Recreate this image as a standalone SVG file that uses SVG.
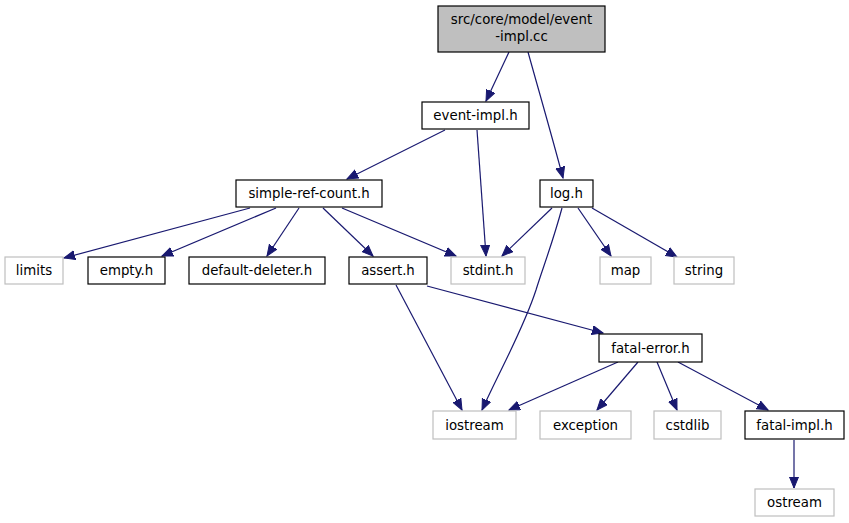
<svg xmlns="http://www.w3.org/2000/svg" width="849" height="523" viewBox="0 0 849 523">
<defs>
<marker id="arr" markerUnits="userSpaceOnUse" markerWidth="13" markerHeight="11" refX="11" refY="5" orient="auto">
<path d="M0,0.5 L11,5 L0,9.5 z" fill="#191970" stroke="#191970" stroke-width="1"/>
</marker>
<style>
.n rect{fill:#ffffff;stroke:#000000;stroke-width:1.2}
.g rect{fill:#ffffff;stroke:#bfbfbf;stroke-width:1.2}
.r rect{fill:#bfbfbf;stroke:#000000;stroke-width:1.2}
text{font-family:"DejaVu Sans","Liberation Sans",sans-serif;font-size:13.33px;text-anchor:middle;fill:#000}
.e path{fill:none;stroke:#191970;stroke-width:1.2;marker-end:url(#arr)}
</style>
</defs>
<rect width="849" height="523" fill="#ffffff"/>
<g class="e" id="edges">
<path d="M509,52 L486,101"/>
<path d="M528,52 C540,95 553,140 563,178"/>
<path d="M445,130 L347,179"/>
<path d="M477,130 L486,256"/>
<path d="M250,208 L64,258"/>
<path d="M276,208 L162,256"/>
<path d="M299,208 L267,256"/>
<path d="M323,208 L373,256"/>
<path d="M342,208 L456,256"/>
<path d="M552,208 L502,256"/>
<path d="M562,208 C552,245 542,270 536,290 C523,330 500,370 482,410"/>
<path d="M578,208 L611,256"/>
<path d="M592,208 L677,257"/>
<path d="M396,285 L462,410"/>
<path d="M427,286 L603,333"/>
<path d="M618,362 L509,410"/>
<path d="M638,362 L597,410"/>
<path d="M657,362 L677,410"/>
<path d="M678,362 L768,410"/>
<path d="M794,440 L794,488"/>
</g>
<g id="root" class="r"><rect x="438" y="6" width="167" height="46"/><text x="521.5" y="24">src/core/model/event</text><text x="521.5" y="41">-impl.cc</text></g>
<g id="event-impl-h" class="n"><rect x="422" y="102" width="107" height="27"/><text x="475.5" y="120">event-impl.h</text></g>
<g id="simple-ref-count-h" class="n"><rect x="236" y="180" width="146" height="27"/><text x="309" y="198">simple-ref-count.h</text></g>
<g id="log-h" class="n"><rect x="540" y="180" width="53" height="27"/><text x="566.5" y="198">log.h</text></g>
<g id="limits" class="g"><rect x="5" y="257" width="58" height="27"/><text x="34" y="275">limits</text></g>
<g id="empty-h" class="n"><rect x="88" y="257" width="77" height="27"/><text x="126.5" y="275">empty.h</text></g>
<g id="default-deleter-h" class="n"><rect x="189" y="257" width="136" height="27"/><text x="257" y="275">default-deleter.h</text></g>
<g id="assert-h" class="n"><rect x="349" y="257" width="78" height="27"/><text x="388" y="275">assert.h</text></g>
<g id="stdint-h" class="g"><rect x="451" y="257" width="74" height="27"/><text x="488" y="275">stdint.h</text></g>
<g id="map" class="g"><rect x="600" y="257" width="51" height="27"/><text x="625.5" y="275">map</text></g>
<g id="string" class="g"><rect x="674" y="257" width="60" height="27"/><text x="704" y="275">string</text></g>
<g id="fatal-error-h" class="n"><rect x="599" y="334" width="103" height="28"/><text x="650.5" y="352.5">fatal-error.h</text></g>
<g id="iostream" class="g"><rect x="433" y="411" width="83" height="28"/><text x="474.5" y="429.5">iostream</text></g>
<g id="exception" class="g"><rect x="540" y="411" width="91" height="28"/><text x="585.5" y="429.5">exception</text></g>
<g id="cstdlib" class="g"><rect x="654" y="411" width="67" height="28"/><text x="687.5" y="429.5">cstdlib</text></g>
<g id="fatal-impl-h" class="n"><rect x="745" y="411" width="99" height="28"/><text x="794.5" y="429.5">fatal-impl.h</text></g>
<g id="ostream" class="g"><rect x="755" y="489" width="79" height="27"/><text x="794.5" y="507">ostream</text></g>
</svg>
